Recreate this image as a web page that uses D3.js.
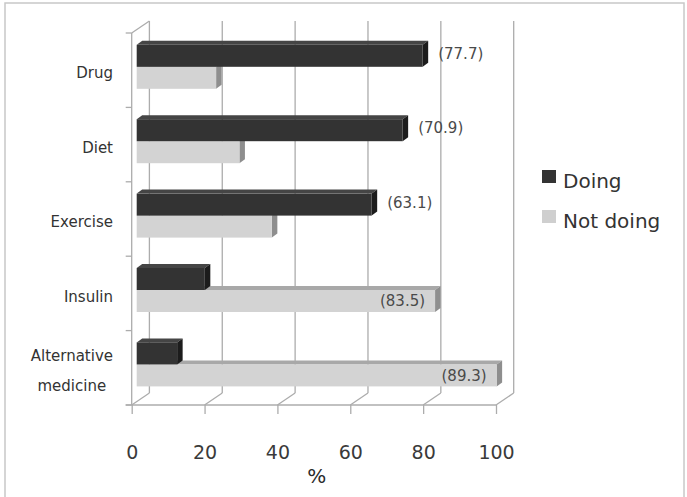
<!DOCTYPE html>
<html>
<head>
<meta charset="utf-8">
<script src="https://cdn.jsdelivr.net/npm/d3@7"></script>
<style>
  html, body { margin: 0; padding: 0; background: #fff; }
  svg { display: block; }
  text { font-family: "DejaVu Sans", sans-serif; }
</style>
</head>
<body>
<svg id="chart" width="687" height="497"></svg>
<script>
// ---- data ----
const categories = ["Drug", "Diet", "Exercise", "Insulin", "Alternative medicine"];
const seriesNames = ["Doing", "Not doing"];
const doing = [78.5, 73.0, 64.5, 18.7, 11.1];
const notDoing = [21.8, 28.2, 37.1, 81.9, 98.8];
const doingLabels = ["(77.7)", "(70.9)", "(63.1)", null, null];
const notDoingLabels = [null, null, null, "(83.5)", "(89.3)"];
const tickValues = [0, 20, 40, 60, 80, 100];
const axisTitle = "%";

// ---- layout ----
const svg = d3.select("#chart");
const W = 687, H = 497;
const front = { left: 131.7, right: 496, top: 33, bottom: 405 };
const wall = { dx: 17.7, dy: -12 };      // depth of the 3D box
const plane = { dx: 5, dy: -3.4 };       // where bars sit in depth
const barDepth = { dx: 5.5, dy: -4 };    // thickness of the bars
const gridColor = "#acacac";

const x = d3.scaleLinear().domain([0, 100]).range([front.left, front.right]);
const y = d3.scaleBand().domain(categories).range([front.top, front.bottom]).padding(0);
const inner = d3.scaleBand().domain(seriesNames).range([0, y.bandwidth()])
  .paddingInner(0).paddingOuter(0.691);

const colors = {
  "Doing": { front: "#333333", top: "#454545", side: "#1c1c1c", legend: "#333333" },
  "Not doing": { front: "#d3d3d3", top: "#a8a8a8", side: "#8e8e8e", legend: "#cfcfcf" }
};

// outer border
svg.append("rect").attr("x", 5).attr("y", 3).attr("width", 679).attr("height", 510)
  .attr("fill", "none").attr("stroke", "#c8c8c8").attr("stroke-width", 1.5);

const g = svg.append("g");

// back wall gridlines + floor diagonals
tickValues.forEach(v => {
  const xf = x(v), xb = x(v) + wall.dx;
  g.append("line").attr("x1", xb).attr("x2", xb)
    .attr("y1", front.top + wall.dy).attr("y2", front.bottom + wall.dy)
    .attr("stroke", gridColor).attr("stroke-width", 1.3);
  g.append("line").attr("x1", xf).attr("y1", front.bottom)
    .attr("x2", xb).attr("y2", front.bottom + wall.dy)
    .attr("stroke", gridColor).attr("stroke-width", 1.3);
});

// left wall front edge and top diagonal
g.append("line").attr("x1", front.left).attr("x2", front.left)
  .attr("y1", front.top).attr("y2", front.bottom)
  .attr("stroke", gridColor).attr("stroke-width", 1.3);
g.append("line").attr("x1", front.left).attr("y1", front.top)
  .attr("x2", front.left + wall.dx).attr("y2", front.top + wall.dy)
  .attr("stroke", gridColor).attr("stroke-width", 1.3);

// category boundary ticks
const bounds = categories.map(c => y(c)).concat([front.bottom]);
bounds.forEach(b => {
  g.append("line").attr("x1", front.left - 6).attr("x2", front.left)
    .attr("y1", b).attr("y2", b).attr("stroke", gridColor).attr("stroke-width", 1.3);
});

// floor front line
g.append("line").attr("x1", front.left - 6).attr("x2", front.right)
  .attr("y1", front.bottom).attr("y2", front.bottom)
  .attr("stroke", gridColor).attr("stroke-width", 1.3);

// bottom axis
const axis = d3.axisBottom(x).tickValues(tickValues).tickSize(9).tickPadding(32).tickSizeOuter(0);
const ax = g.append("g").attr("transform", `translate(0,${front.bottom})`).call(axis);
ax.select(".domain").remove();
ax.selectAll(".tick line").attr("stroke", gridColor).attr("stroke-width", 1.3);
ax.selectAll(".tick text").attr("fill", "#3a3a3a").attr("font-size", 19)
  .attr("font-family", "DejaVu Sans, sans-serif");

svg.append("text").attr("x", (x(0) + x(100)) / 2 + 3).attr("y", 483)
  .attr("text-anchor", "middle").attr("font-size", 20).attr("fill", "#2a2a2a")
  .text(axisTitle);

// bars
function drawBar(cat, series, v) {
  const c = colors[series];
  const x0 = x(0) + plane.dx, x1 = x(v) + plane.dx;
  const y0 = y(cat) + plane.dy + inner(series);
  const y1 = y0 + inner.bandwidth();
  const d = barDepth;
  const bg = g.append("g");
  bg.append("polygon").attr("points", [[x0, y0], [x0 + d.dx, y0 + d.dy], [x1 + d.dx, y0 + d.dy], [x1, y0]].join(" "))
    .attr("fill", c.top);
  bg.append("polygon").attr("points", [[x1, y0], [x1 + d.dx, y0 + d.dy], [x1 + d.dx, y1 + d.dy], [x1, y1]].join(" "))
    .attr("fill", c.side);
  bg.append("rect").attr("x", x0).attr("y", y0).attr("width", x1 - x0).attr("height", y1 - y0)
    .attr("fill", c.front);
  return { x1: x1 + d.dx, xf: x1, yc: (y0 + y1) / 2 };
}

categories.forEach((cat, i) => {
  const nd = drawBar(cat, "Not doing", notDoing[i]);
  const dd = drawBar(cat, "Doing", doing[i]);
  if (doingLabels[i]) {
    svg.append("text").attr("x", dd.x1 + 10).attr("y", dd.yc - 2).attr("dy", "0.35em")
      .attr("font-size", 15).attr("fill", "#4a4a4a").text(doingLabels[i]);
  }
  if (notDoingLabels[i]) {
    svg.append("text").attr("x", nd.xf - 10).attr("y", nd.yc).attr("dy", "0.35em")
      .attr("text-anchor", "end").attr("font-size", 15).attr("fill", "#4a4a4a").text(notDoingLabels[i]);
  }
});

// category labels
categories.forEach(cat => {
  const cy = y(cat) + y.bandwidth() / 2 + 3;
  if (cat === "Alternative medicine") {
    const t1 = svg.append("text").attr("font-size", 15).attr("fill", "#333")
      .attr("y", cy - 15).attr("dy", "0.35em").text("Alternative");
    const w = t1.node().getComputedTextLength();
    const cx = 113 - w / 2;
    t1.attr("x", cx).attr("text-anchor", "middle");
    svg.append("text").attr("font-size", 15).attr("fill", "#333")
      .attr("x", cx).attr("y", cy + 15).attr("dy", "0.35em").attr("text-anchor", "middle")
      .text("medicine");
  } else {
    svg.append("text").attr("x", 113).attr("y", cy).attr("dy", "0.35em")
      .attr("text-anchor", "end").attr("font-size", 15).attr("fill", "#333").text(cat);
  }
});

// legend
const legend = svg.append("g");
seriesNames.forEach((s, i) => {
  const ly = 170 + i * 40;
  legend.append("rect").attr("x", 542).attr("y", ly).attr("width", 14).attr("height", 13)
    .attr("fill", colors[s].legend);
  legend.append("text").attr("x", 563).attr("y", ly + 18).attr("font-size", 20)
    .attr("fill", "#333").text(s);
});
</script>
</body>
</html>
